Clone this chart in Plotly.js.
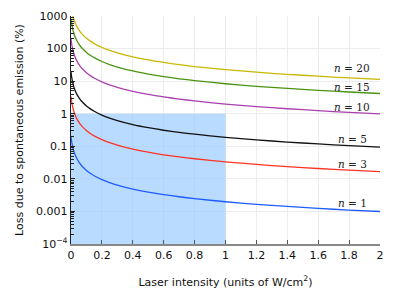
<!DOCTYPE html>
<html>
<head>
<meta charset="utf-8">
<script src="https://cdn.plot.ly/plotly-3.0.1.min.js"></script>
<style>html,body{margin:0;padding:0;background:#fff;}#chart{width:393px;height:295px;}</style>
</head>
<body>
<div id="chart"></div>
<script>
// Laser intensity (units of W/cm^2)
const intensity = [0, 0.0025, 0.005, 0.0075, 0.01, 0.015, 0.02, 0.025, 0.03, 0.04, 0.05, 0.06, 0.075, 0.1, 0.125, 0.15, 0.2, 0.25, 0.3, 0.4, 0.5, 0.6, 0.7, 0.8, 1.0, 1.2, 1.4, 1.6, 1.8, 2.0];
// Loss due to spontaneous emission (%)
const lossN1  = [0.2, 0.16, 0.133, 0.114, 0.1, 0.08, 0.0667, 0.0571, 0.05, 0.04, 0.0333, 0.0286, 0.0235, 0.0182, 0.0148, 0.0125, 0.0095, 0.0077, 0.00645, 0.00488, 0.00392, 0.00328, 0.00282, 0.00247, 0.00198, 0.00165, 0.00142, 0.00124, 0.0011, 0.000995];
const lossN3  = [3.35, 2.68, 2.23, 1.91, 1.68, 1.34, 1.12, 0.957, 0.84, 0.67, 0.56, 0.479, 0.394, 0.305, 0.248, 0.209, 0.16, 0.129, 0.108, 0.0817, 0.0657, 0.0549, 0.0472, 0.0414, 0.0332, 0.0277, 0.0238, 0.0208, 0.0185, 0.0167];
const lossN5  = [19, 15.2, 12.7, 10.9, 9.5, 7.6, 6.33, 5.43, 4.75, 3.8, 3.17, 2.71, 2.24, 1.73, 1.41, 1.19, 0.905, 0.731, 0.613, 0.463, 0.373, 0.311, 0.268, 0.235, 0.188, 0.157, 0.135, 0.118, 0.105, 0.0945];
const lossN10 = [200, 160, 133, 114, 100, 80, 66.7, 57.1, 50, 40, 33.3, 28.6, 23.5, 18.2, 14.8, 12.5, 9.52, 7.7, 6.45, 4.88, 3.92, 3.28, 2.82, 2.47, 1.98, 1.65, 1.42, 1.24, 1.10, 0.995];
const lossN15 = [840, 672, 560, 480, 420, 336, 280, 240, 210, 168, 140, 120, 98.8, 76.4, 62.2, 52.5, 40, 32.3, 27.1, 20.5, 16.5, 13.8, 11.8, 10.4, 8.32, 6.94, 5.96, 5.22, 4.64, 4.18];
const lossN20 = [2280, 1824, 1520, 1302, 1140, 912, 760, 652, 570, 456, 380, 326, 268, 207, 169, 142.5, 108.6, 87.8, 73.5, 55.6, 44.7, 37.4, 32.1, 28.1, 22.6, 18.8, 16.2, 14.2, 12.6, 11.3];
const seriesNames = ['n = 1', 'n = 3', 'n = 5', 'n = 10', 'n = 15', 'n = 20'];
const labelText = ['<i>n</i> = 1', '<i>n</i> = 3', '<i>n</i> = 5', '<i>n</i> = 10', '<i>n</i> = 15', '<i>n</i> = 20'];
// Shaded region
const shadeX = [0, 1, 1, 0, 0];
const shadeY = [1e-4, 1e-4, 1, 1, 1e-4];
// Axis ticks
const yTickVals = [1e-4, 1e-3, 1e-2, 0.1, 1, 10, 100, 1000];
const yTickText = ['10<sup>−4</sup>', '0.001', '0.01', '0.1', '1', '10', '100', '1000'];
const xTickVals = [0, 0.2, 0.4, 0.6, 0.8, 1, 1.2, 1.4, 1.6, 1.8, 2];
const xTickText = ['0', '0.2', '0.4', '0.6', '0.8', '1', '1.2', '1.4', '1.6', '1.8', '2'];
const minorDecades = [1e-4, 1e-3, 1e-2, 0.1, 1, 10, 100];
const minorDigits = [2, 3, 4, 5, 6, 7, 8, 9];

const minorVals = [];
minorDecades.forEach(d => minorDigits.forEach(m => minorVals.push(d * m)));

const colors = ['#1f5cff', '#ff3322', '#111111', '#aa3fb0', '#4b9412', '#c8b800'];
const labelPos = [[1.82, 0.0018], [1.82, 0.029], [1.82, 0.166], [1.82, 1.65], [1.82, 6.77], [1.82, 25.4]];

const ys = [lossN1, lossN3, lossN5, lossN10, lossN15, lossN20];
const traces = [{
  x: shadeX, y: shadeY, type: 'scatter', mode: 'lines', fill: 'toself',
  fillcolor: 'rgba(150,202,255,0.68)', line: {width: 0}, hoverinfo: 'skip', showlegend: false
}];
ys.forEach((y, i) => {
  traces.push({x: intensity, y: y, type: 'scatter', mode: 'lines', name: seriesNames[i],
    line: {color: colors[i], width: 1.3, shape: 'spline', smoothing: 0.5}, showlegend: false, cliponaxis: true});
});
// invisible trace carrying the minor-tick axis
traces.push({x: [intensity[0]], y: [yTickVals[4]], yaxis: 'y2', type: 'scatter', mode: 'markers',
  marker: {opacity: 0}, hoverinfo: 'skip', showlegend: false});

const annotations = labelText.map((t, i) => ({
  x: labelPos[i][0], y: Math.log10(labelPos[i][1]), xref: 'x', yref: 'y', text: t,
  showarrow: false, font: {family: 'DejaVu Serif, Liberation Serif, serif', size: 10.5, color: '#222'},
  xanchor: 'center', yanchor: 'middle'
}));

const layout = {
  width: 393, height: 295,
  margin: {l: 70.7, r: 12.5, t: 16, b: 51},
  paper_bgcolor: '#fff', plot_bgcolor: '#fff',
  font: {family: 'DejaVu Sans, sans-serif', size: 11, color: '#111'},
  xaxis: {
    range: [0, 2], tickvals: xTickVals, ticktext: xTickText,
    showgrid: true, gridcolor: '#ececec', gridwidth: 1,
    zeroline: false, showline: true, linecolor: '#888', linewidth: 2,
    ticks: 'inside', ticklen: 4, tickcolor: '#555',
    tickfont: {size: 11},
    title: {text: 'Laser intensity (units of W/cm<sup>2</sup>)', font: {size: 11}, standoff: 17}
  },
  yaxis: {
    type: 'log', range: [-4, 3], tickvals: yTickVals, ticktext: yTickText,
    showgrid: true, gridcolor: '#ececec', gridwidth: 1,
    zeroline: false, showline: true, linecolor: '#222', linewidth: 1.3,
    ticks: 'inside', ticklen: 4, tickcolor: '#222',
    tickfont: {size: 11},
    title: {text: 'Loss due to spontaneous emission (%)', font: {size: 11}, standoff: 10}
  },
  yaxis2: {
    type: 'log', range: [-4, 3], overlaying: 'y', side: 'left', anchor: 'x',
    tickvals: minorVals, ticktext: minorVals.map(() => ''),
    showgrid: false, zeroline: false, showline: false,
    ticks: 'inside', ticklen: 2.5, tickcolor: '#222', tickwidth: 1
  },
  annotations: annotations,
  showlegend: false
};
Plotly.newPlot('chart', traces, layout, {displayModeBar: false, staticPlot: true});
</script>
</body>
</html>
